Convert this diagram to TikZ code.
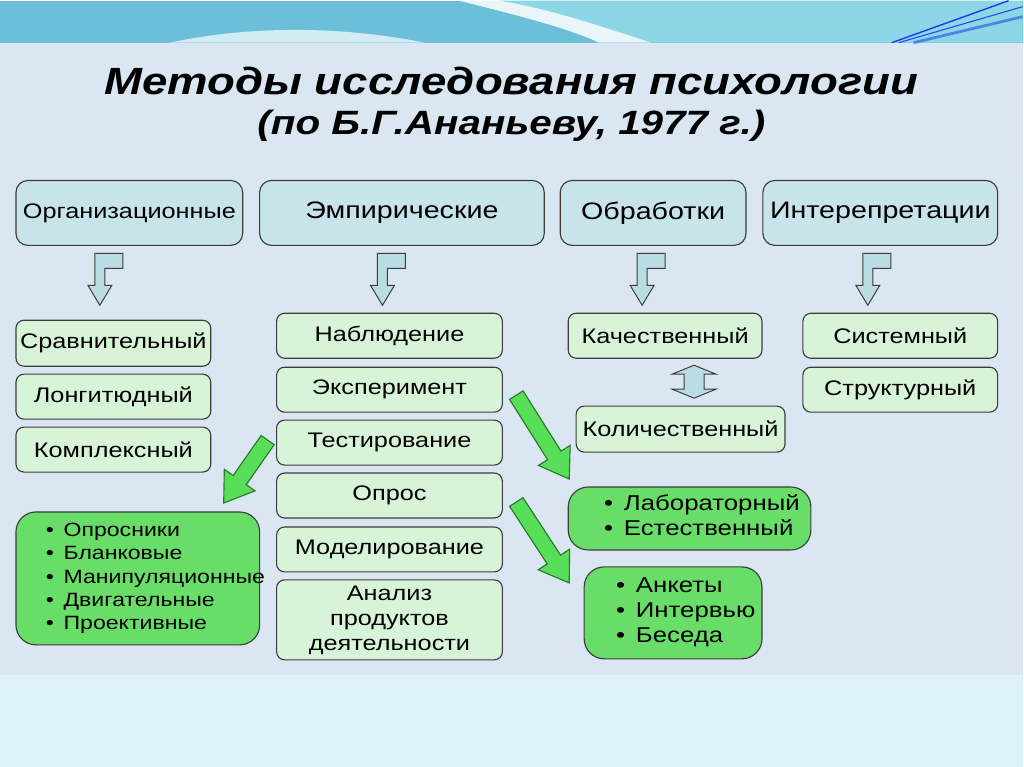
\documentclass[tikz,border=0pt]{standalone}
\usepackage{fontspec}
\setmainfont{Liberation Sans}[FakeStretch=1.2]
\usepackage{tikz}
\usetikzlibrary{calc}
\definecolor{cBanner}{RGB}{108,191,216}
\definecolor{cBannerLt}{RGB}{141,214,230}
\definecolor{cPaper}{RGB}{218,230,242}
\definecolor{cFoot}{RGB}{220,244,248}
\definecolor{cTop}{RGB}{198,228,234}
\definecolor{cLeaf}{RGB}{216,244,216}
\definecolor{cList}{RGB}{104,222,104}
\definecolor{cArr}{RGB}{88,222,88}
\definecolor{cArrEdge}{RGB}{40,120,40}
\definecolor{cBent}{RGB}{185,221,227}
\definecolor{cEdge}{RGB}{60,60,60}
% block arrow from #1 to #2
\newcommand{\bigarrow}[2]{%
  \coordinate (#2-b) at ($(#2)!0.7cm!(#1)$);
  \draw[draw=cArrEdge,line width=0.8pt,fill=cArr]
    ($(#1)!0.2cm!90:(#2)$) -- ($(#2-b)!0.2cm!90:(#2)$) -- ($(#2-b)!0.47cm!90:(#2)$)
    -- (#2) -- ($(#2-b)!0.47cm!-90:(#2)$) -- ($(#2-b)!0.2cm!-90:(#2)$)
    -- ($(#1)!0.2cm!-90:(#2)$) -- cycle;}
\newcommand{\itm}{•\hspace{0.5em}}

\begin{document}
\begin{tikzpicture}[x=0.025cm,y=-0.025cm,
  topbox/.style={draw=cEdge,line width=0.8pt,fill=cTop,rounded corners=0.3cm,
    inner sep=0pt,font=\fontsize{17}{20}\selectfont},
  leafbox/.style={draw=cEdge,line width=0.8pt,fill=cLeaf,rounded corners=0.2cm,
    inner sep=0pt,font=\fontsize{15}{17.8}\selectfont,align=center},
  listbox/.style={draw=cEdge,line width=0.8pt,fill=cList,rounded corners=0.5cm,
    inner xsep=0.1cm,font=\fontsize{15.3}{17.8}\selectfont},
  bentarrow/.pic={\draw[draw=cEdge,line width=0.7pt,fill=cBent]
    (-5,-52) -- (23,-52) -- (23,-37) -- (5,-37) -- (5,-20) -- (12,-20)
    -- (0,0) -- (-12,-20) -- (-5,-20) -- cycle;}]
% background
\fill[cPaper] (0,0) rectangle (1024,767);
\fill[cFoot] (0,675) rectangle (1024,767);
\fill[cBanner] (0,0) rectangle (1024,42);
\fill[cBannerLt] (500,0) .. controls (550,8) and (600,25) .. (652,42) -- (1024,42) -- (1024,0) -- cycle;
\fill[white!70!cBanner] (170,42) .. controls (250,25) and (340,25) .. (425,42) -- cycle;
\fill[white!85!cBanner] (460,0) .. controls (520,15) and (570,28) .. (600,42) -- (652,42)
  .. controls (600,25) and (550,8) .. (500,0) -- cycle;
\draw[blue!70!cBanner,line width=1pt] (893,42) -- (1010,0);
\draw[blue!60!cBanner,line width=0.8pt] (900,42) -- (1024,6);
\draw[cBanner!70!blue,line width=2pt] (915,42) -- (1024,16);
% title
\node[font=\fontsize{27}{31}\selectfont\bfseries\itshape] (title) at (512,80) {Методы исследования психологии};
\node[font=\fontsize{24}{28}\selectfont\bfseries\itshape] (subtitle) at (512,125) {(по Б.Г.Ананьеву, 1977 г.)};
% top row
\node[topbox,minimum width=5.675cm,minimum height=1.625cm,font=\fontsize{15}{18}\selectfont] (org) at (129.5,212.5) {Организационные};
\node[topbox,minimum width=7.125cm,minimum height=1.625cm] (emp) at (402.5,212.5) {Эмпирические};
\node[topbox,minimum width=4.65cm,minimum height=1.625cm] (obr) at (654,212.5) {Обработки};
\node[topbox,minimum width=5.875cm,minimum height=1.625cm] (intp) at (881.5,212.5) {Интерепретации};
\pic at (100,305) {bentarrow};
\pic at (383,305) {bentarrow};
\pic at (643,305) {bentarrow};
\pic at (869,305) {bentarrow};
% organizational
\node[leafbox,minimum width=4.875cm,minimum height=1.15cm] (srav) at (113.5,343) {Сравнительный};
\node[leafbox,minimum width=4.875cm,minimum height=1.125cm] (longit) at (113.5,396.5) {Лонгитюдный};
\node[leafbox,minimum width=4.875cm,minimum height=1.125cm] (kompl) at (113.5,449.5) {Комплексный};
% empirical
\node[leafbox,minimum width=5.65cm,minimum height=1.125cm] (nabl) at (390,335.5) {Наблюдение};
\node[leafbox,minimum width=5.65cm,minimum height=1.125cm] (eksp) at (390,389.5) {Эксперимент};
\node[leafbox,minimum width=5.65cm,minimum height=1.125cm] (test) at (390,442.5) {Тестирование};
\node[leafbox,minimum width=5.65cm,minimum height=1.125cm] (opros) at (390,495.5) {Опрос};
\node[leafbox,minimum width=5.65cm,minimum height=1.125cm] (model) at (390,549.5) {Моделирование};
\node[leafbox,minimum width=5.65cm,minimum height=2.0cm] (analiz) at (390,620) {Анализ\\продуктов\\деятельности};
% processing
\node[leafbox,minimum width=4.85cm,minimum height=1.125cm] (kach) at (666,335.5) {Качественный};
\node[leafbox,minimum width=5.225cm,minimum height=1.15cm] (kol) at (681.5,429) {Количественный};
\draw[draw=cEdge,line width=0.7pt,fill=cBent] (695,365) -- (717,374) -- (705,374) -- (705,389)
  -- (717,389) -- (695,398) -- (673,389) -- (685,389) -- (685,374) -- (673,374) -- cycle;
% interpretation
\node[leafbox,minimum width=4.875cm,minimum height=1.125cm] (sist) at (901.5,335.5) {Системный};
\node[leafbox,minimum width=4.875cm,minimum height=1.125cm] (strukt) at (901.5,389.5) {Структурный};
% lists
\node[listbox,minimum width=6.1cm,minimum height=3.325cm,font=\fontsize{13.7}{16.4}\selectfont] (testlist) at (138,578.5)
  {\makebox[5.9cm][l]{\hspace{0.65cm}\begin{tabular}{@{}l@{}}\itm Опросники\\\itm Бланковые\\\itm Манипуляционные\\\itm Двигательные\\\itm Проективные\end{tabular}}};
\node[listbox,minimum width=6.075cm,minimum height=1.575cm] (lab) at (690.5,518.5)
  {\makebox[5.875cm][l]{\hspace{0.8cm}\begin{tabular}{@{}l@{}}\itm Лабораторный\\\itm Естественный\end{tabular}}};
\node[listbox,minimum width=4.45cm,minimum height=2.3cm] (ank) at (674,613)
  {\makebox[4.25cm][l]{\hspace{0.7cm}\begin{tabular}{@{}l@{}}\itm Анкеты\\\itm Интервью\\\itm Беседа\end{tabular}}};
% green arrows
\coordinate (g1s) at (268,440);
\coordinate (g1e) at (224,503);
\coordinate (g2s) at (517,395);
\coordinate (g2e) at (570,479);
\coordinate (g3s) at (517,502);
\coordinate (g3e) at (570,583);
\bigarrow{g1s}{g1e}
\bigarrow{g2s}{g2e}
\bigarrow{g3s}{g3e}
\end{tikzpicture}
\end{document}
